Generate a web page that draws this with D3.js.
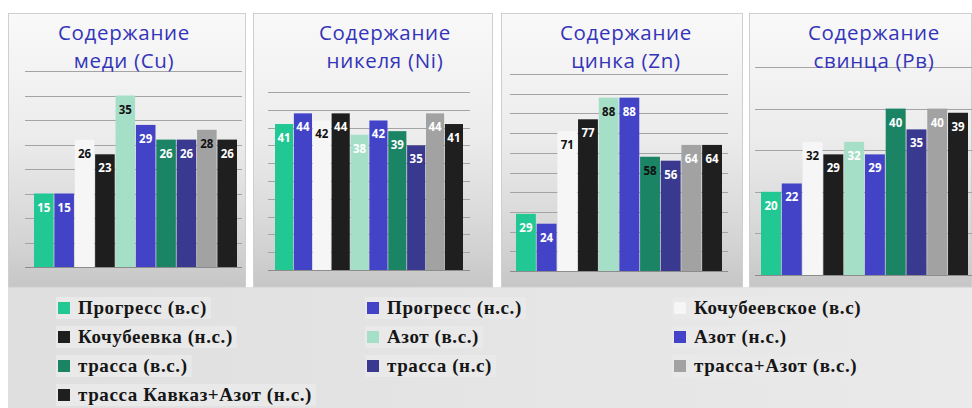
<!DOCTYPE html>
<html>
<head>
<meta charset="utf-8">
<script src="https://cdn.jsdelivr.net/npm/d3@7"></script>
<style>
  body { margin: 0; background: #fff; }
  svg { display: block; }
</style>
</head>
<body>
<script>
// series (legend order)
const seriesNames = [
  'Прогресс (в.с)', 'Прогресс (н.с.)', 'Кочубеевское (в.с)',
  'Кочубеевка (н.с.)', 'Азот (в.с.)', 'Азот (н.с.)',
  'трасса (в.с.)', 'трасса (н.с)', 'трасса+Азот (в.с.)',
  'трасса Кавказ+Азот (н.с.)'
];
const seriesColors = ['#22c894', '#4343c8', '#f6f6f6', '#1e1e1e', '#a6dfc8',
  '#4343c8', '#1b8464', '#393990', '#a2a2a2', '#1f1f1f'];

// values per element
const cuValues = [15, 15, 26, 23, 35, 29, 26, 26, 28, 26];
const niValues = [41, 44, 42, 44, 38, 42, 39, 35, 44, 41];
const znValues = [29, 24, 71, 77, 88, 88, 58, 56, 64, 64];
const pbValues = [20, 22, 32, 29, 32, 29, 40, 35, 40, 39];

const chartTitles = [
  ['Содержание', 'меди (Cu)'],
  ['Содержание', 'никеля (Ni)'],
  ['Содержание', 'цинка (Zn)'],
  ['Содержание', 'свинца (Pв)']
];
const yMax = [40, 50, 100, 50];
const yStep = [5, 5, 10, 10];

// which bars get dark value labels
const darkLabels = [[2, 4, 8], [2], [2, 4, 6], [2]];

const width = 972, height = 408;

const charts = [
  {values: cuValues, px: 8, pw: 238, gx: [25, 242], bx: [34, 237], base: 267, top: 71, tx: 124},
  {values: niValues, px: 253, pw: 240, gx: [268, 470], bx: [275, 463], base: 270, top: 92, tx: 385},
  {values: znValues, px: 501, pw: 242, gx: [510, 728], bx: [516, 722], base: 271, top: 74, tx: 626},
  {values: pbValues, px: 749, pw: 223, gx: [755, 972], bx: [761, 968], base: 275, top: 67, tx: 874}
];

const svg = d3.select('body').append('svg')
  .attr('width', width)
  .attr('height', height);

const defs = svg.append('defs');
const pg = defs.append('linearGradient')
  .attr('id', 'panelGrad')
  .attr('x1', 0).attr('y1', 0).attr('x2', 0).attr('y2', 1);
pg.append('stop').attr('offset', '0%').attr('stop-color', '#f9f9f9');
pg.append('stop').attr('offset', '45%').attr('stop-color', '#ececec');
pg.append('stop').attr('offset', '85%').attr('stop-color', '#d3d3d3');
pg.append('stop').attr('offset', '100%').attr('stop-color', '#c6c6c6');

const lg = defs.append('linearGradient')
  .attr('id', 'legendGrad')
  .attr('x1', 0).attr('y1', 0).attr('x2', 1).attr('y2', 0);
lg.append('stop').attr('offset', '0%').attr('stop-color', '#dfdfdf');
lg.append('stop').attr('offset', '100%').attr('stop-color', '#eaeaea');

// legend background
svg.append('rect')
  .attr('x', 8).attr('y', 287)
  .attr('width', width - 8).attr('height', height - 287)
  .attr('fill', 'url(#legendGrad)');

charts.forEach(function(c, ci) {
  const g = svg.append('g');

  g.append('rect')
    .attr('x', c.px + 0.5).attr('y', 13.5)
    .attr('width', c.pw - 1).attr('height', 287 - 13.5)
    .attr('fill', 'url(#panelGrad)')
    .attr('stroke', '#cfcfcf');

  const x = d3.scaleBand()
    .domain(d3.range(seriesNames.length))
    .range(c.bx)
    .paddingInner(0.04);

  const y = d3.scaleLinear()
    .domain([0, yMax[ci]])
    .range([c.base, c.top]);

  // gridlines
  const grid = g.append('g')
    .attr('transform', 'translate(' + c.gx[0] + ',0)')
    .call(d3.axisLeft(y)
      .tickValues(d3.range(yStep[ci], yMax[ci] + 0.1, yStep[ci]))
      .tickSize(-(c.gx[1] - c.gx[0]))
      .tickFormat(''));
  grid.select('.domain').remove();
  grid.selectAll('line')
    .attr('stroke', '#a4a4a4')
    .attr('shape-rendering', 'crispEdges');

  // title, two lines (drawn before bars: gridlines run under it)
  g.selectAll('text.title')
    .data(chartTitles[ci])
    .enter()
    .append('text')
    .attr('class', 'title')
    .attr('x', c.tx)
    .attr('y', function(d, i) { return 40 + i * 28; })
    .attr('text-anchor', 'middle')
    .attr('font-family', '"Open Sans", sans-serif')
    .attr('font-size', 20.5)
    .attr('letter-spacing', 0.7)
    .attr('fill', '#3434b8')
    .text(function(d) { return d; });

  g.selectAll('rect.bar')
    .data(c.values)
    .enter()
    .append('rect')
    .attr('class', 'bar')
    .attr('x', function(d, i) { return x(i); })
    .attr('y', function(d) { return y(d); })
    .attr('width', x.bandwidth())
    .attr('height', function(d) { return y(0) - y(d); })
    .attr('fill', function(d, i) { return seriesColors[i]; });

  // baseline
  g.append('line')
    .attr('x1', c.gx[0]).attr('x2', c.gx[1])
    .attr('y1', c.base + 0.5).attr('y2', c.base + 0.5)
    .attr('stroke', '#8c8c8c');

  g.selectAll('text.val')
    .data(c.values)
    .enter()
    .append('text')
    .attr('class', 'val')
    .attr('x', function(d, i) { return x(i) + x.bandwidth() / 2; })
    .attr('y', function(d) { return y(d) + 18; })
    .attr('text-anchor', 'middle')
    .attr('font-family', '"Open Sans", sans-serif')
    .attr('font-weight', 'bold')
    .attr('font-size', 11.5)
    .attr('fill', function(d, i) {
      return darkLabels[ci].indexOf(i) >= 0 ? '#111' : '#fff';
    })
    .text(function(d) { return d; });
});

// legend
const colX = [58, 367, 674];
const rowY = [308, 337, 366, 395];

const items = svg.append('g').selectAll('g')
  .data(seriesNames)
  .enter()
  .append('g')
  .attr('transform', function(d, i) {
    return 'translate(' + colX[i % 3] + ',' + rowY[Math.floor(i / 3)] + ')';
  });

const hl = items.append('rect')
  .attr('x', -2).attr('y', -11)
  .attr('height', 22)
  .attr('fill', '#e9e9e9');

items.append('rect')
  .attr('x', 0).attr('y', -6)
  .attr('width', 12).attr('height', 12)
  .attr('fill', function(d, i) { return seriesColors[i]; });

const labels = items.append('text')
  .attr('x', 20)
  .attr('y', 6)
  .attr('font-family', '"Liberation Serif", serif')
  .attr('font-weight', 'bold')
  .attr('font-size', 19)
  .attr('letter-spacing', 0.6)
  .attr('fill', '#161616')
  .text(function(d) { return d; });

labels.each(function(d, i) {
  const w = this.getComputedTextLength();
  d3.select(hl.nodes()[i]).attr('width', w + 26);
});
</script>
</body>
</html>
